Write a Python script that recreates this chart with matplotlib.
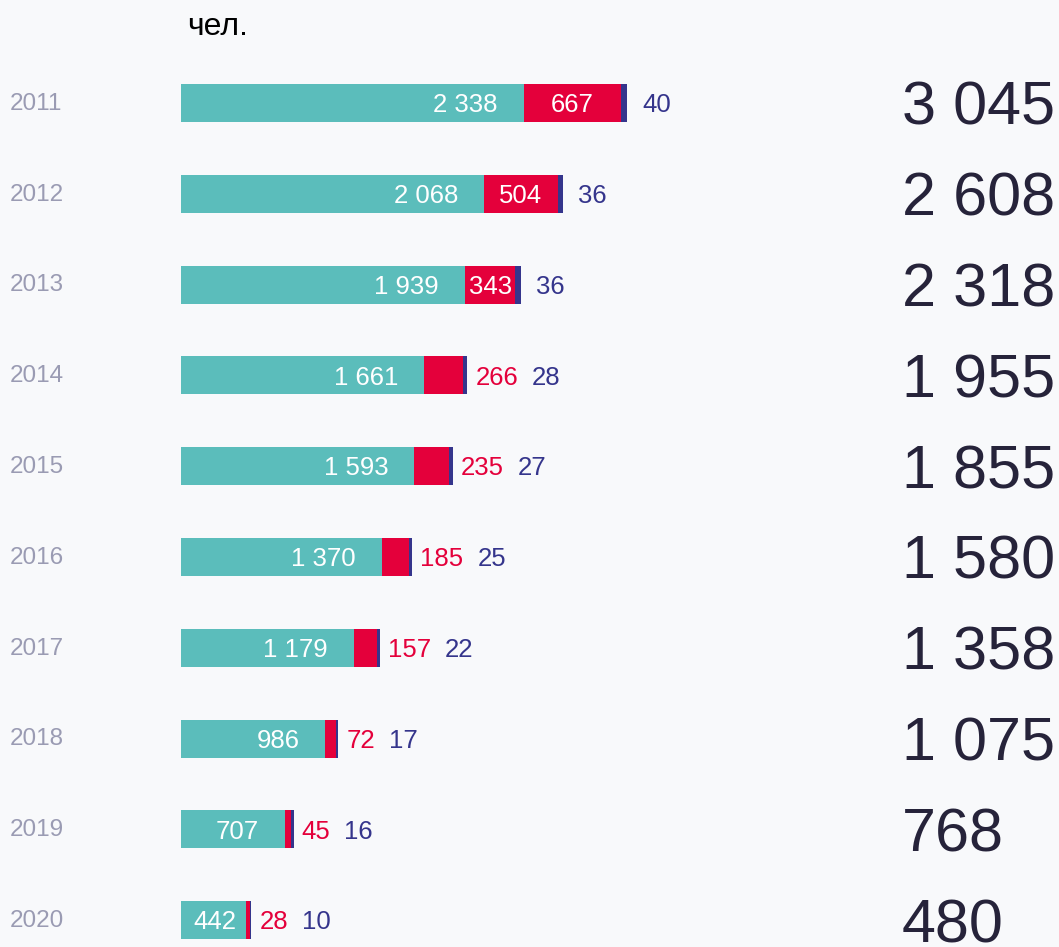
import matplotlib
matplotlib.use("Agg")
import matplotlib.pyplot as plt

years = ["2011", "2012", "2013", "2014", "2015", "2016", "2017", "2018", "2019", "2020"]
teal_vals = [2338, 2068, 1939, 1661, 1593, 1370, 1179, 986, 707, 442]
red_vals = [667, 504, 343, 266, 235, 185, 157, 72, 45, 28]
blue_vals = [40, 36, 36, 28, 27, 25, 22, 17, 16, 10]
totals = ["3 045", "2 608", "2 318", "1 955", "1 855", "1 580", "1 358", "1 075", "768", "480"]
unit_label = "чел."

TEAL = "#5bbdbb"
RED = "#e4003b"
NAVY = "#35358c"
TOTAL_C = "#26233a"
YEAR_C = "#9a9bb3"
BG = "#f8f9fb"

W, H, DPI = 1059, 947, 100
plt.rcParams["font.family"] = ["Liberation Sans", "DejaVu Sans"]

fig = plt.figure(figsize=(W / DPI, H / DPI), dpi=DPI, facecolor=BG)
left_px = 181
scale = 0.1465  # px per unit
ax = fig.add_axes([left_px / W, 0, 1 - left_px / W, 1])
ax.set_facecolor(BG)
ax.set_xlim(0, (W - left_px) / scale)
row0, step = 103, 90.8
ax.set_ylim((H - row0) / step, -row0 / step)
ax.axis("off")

ypos = list(range(len(years)))
bh = 38 / step
ax.barh(ypos, teal_vals, height=bh, color=TEAL, linewidth=0)
ax.barh(ypos, red_vals, left=teal_vals, height=bh, color=RED, linewidth=0)
lefts_b = [t + r for t, r in zip(teal_vals, red_vals)]
ax.barh(ypos, blue_vals, left=lefts_b, height=bh, color=NAVY, linewidth=0)

fs_small = 18.5
cap_small = 0.716 * fs_small * DPI / 72
fs_year = 17.5
cap_year = 0.716 * fs_year * DPI / 72
fs_tot = 44
cap_tot = 0.716 * fs_tot * DPI / 72

for i, y in enumerate(ypos):
    t, r, b = teal_vals[i], red_vals[i], blue_vals[i]
    # year label
    ax.annotate(years[i], xy=(10 / W, y), xycoords=("figure fraction", "data"),
                xytext=(0, -cap_year / 2 + 2), textcoords="offset pixels",
                ha="left", va="baseline", fontsize=fs_year, color=YEAR_C)
    # total label
    ax.annotate(totals[i], xy=(902 / W, y), xycoords=("figure fraction", "data"),
                xytext=(0, -cap_tot / 2), textcoords="offset pixels",
                ha="left", va="baseline", fontsize=fs_tot, color=TOTAL_C)
    # teal label
    tlabel = f"{t:,}".replace(",", " ")
    if t * scale > 100:
        ax.annotate(tlabel, xy=(t, y), xytext=(-26, -cap_small / 2), textcoords="offset pixels",
                    ha="right", va="baseline", fontsize=fs_small, color="white")
    else:
        ax.annotate(tlabel, xy=(0, y), xytext=(12, -cap_small / 2), textcoords="offset pixels",
                    ha="left", va="baseline", fontsize=fs_small, color="white")
    end = t + r + b
    if r > 300:
        ax.annotate(str(r), xy=(t + r / 2, y), xytext=(0, -cap_small / 2), textcoords="offset pixels",
                    ha="center", va="baseline", fontsize=fs_small, color="white")
        ax.annotate(str(b), xy=(end, y), xytext=(15, -cap_small / 2), textcoords="offset pixels",
                    ha="left", va="baseline", fontsize=fs_small, color=NAVY)
    else:
        rt = ax.annotate(str(r), xy=(end, y), xytext=(8, -cap_small / 2), textcoords="offset pixels",
                         ha="left", va="baseline", fontsize=fs_small, color=RED)
        ax.annotate(str(b), xy=(1, 0), xycoords=rt, xytext=(14, 0), textcoords="offset pixels",
                    ha="left", va="bottom", fontsize=fs_small, color=NAVY)

fig.text(187 / W, 1 - 27 / H, unit_label, ha="left", va="center", fontsize=23, color="black")

fig.savefig("out.png", dpi=DPI, facecolor=BG)
